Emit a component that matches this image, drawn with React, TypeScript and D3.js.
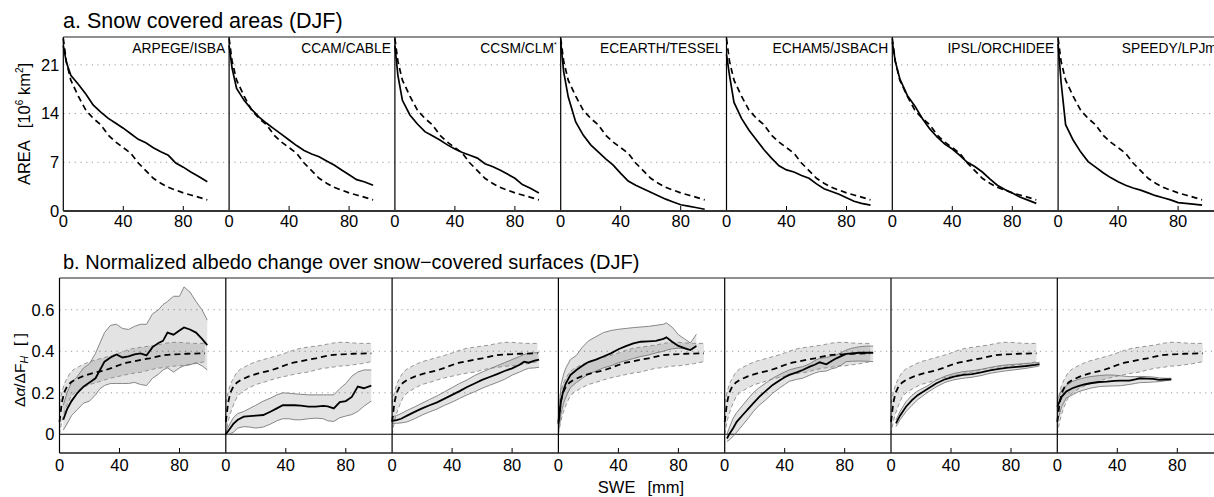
import React from 'react';
import * as d3 from 'd3';

// ---------- labels / ticks ----------
const models = ['ARPEGE/ISBA', 'CCAM/CABLE', 'CCSM/CLM', 'ECEARTH/TESSEL', 'ECHAM5/JSBACH', 'IPSL/ORCHIDEE', 'SPEEDY/LPJml'];
const areaTicks = [7, 14, 21];
const albTicks = [0.2, 0.4, 0.6];
const sweTicks = [0, 40, 80];

// ---------- panel a: snow covered area (10^6 km2) vs SWE (mm) ----------
const areaX = [0, 2, 5, 10, 15, 20, 25, 30, 35, 40, 45, 50, 55, 60, 65, 70, 75, 80, 85, 90, 96];
const areaObs = [24.8, 21.5, 18.8, 16.5, 14.5, 13.3, 12.4, 10.9, 9.9, 9.1, 8.3, 6.9, 5.8, 4.7, 4.0, 3.4, 3.0, 2.6, 2.3, 2.0, 1.6];
const areaArpege = [23.8, 21.4, 19.5, 18.2, 16.8, 15.2, 14.2, 13.3, 12.6, 11.9, 11.1, 10.3, 9.8, 9.1, 8.5, 8.0, 6.9, 6.3, 5.6, 5.0, 4.2];
const areaCcam = [23.8, 20.5, 17.6, 15.9, 14.6, 13.5, 12.6, 11.8, 11.0, 10.2, 9.4, 8.7, 8.2, 7.8, 7.2, 6.6, 5.9, 5.2, 4.5, 4.2, 3.7];
const areaCcsm = [23.8, 19.5, 15.9, 13.8, 12.5, 11.4, 10.8, 10.2, 9.5, 8.9, 8.4, 8.0, 7.6, 6.8, 6.4, 5.9, 5.3, 4.7, 3.8, 3.3, 2.6];
const areaEcearth = [24.3, 20.0, 16.4, 12.8, 10.9, 9.5, 8.5, 7.5, 6.6, 5.4, 4.3, 3.7, 3.2, 2.7, 2.2, 1.7, 1.3, 0.9, 0.7, 0.5, 0.25];
const areaEcham = [22.5, 19.5, 15.6, 13.3, 11.6, 10.2, 8.8, 7.6, 6.5, 5.9, 5.6, 5.1, 4.7, 3.9, 3.2, 2.8, 2.4, 1.9, 1.4, 1.1, 0.85];
const areaIpsl = [24.3, 21.5, 19.0, 16.6, 15.1, 13.3, 11.8, 10.6, 9.6, 8.9, 8.0, 7.0, 6.4, 5.6, 4.6, 3.7, 3.1, 2.6, 2.0, 1.6, 1.1];
const areaSpeedy = [24.0, 18.5, 12.4, 10.2, 8.5, 7.1, 6.3, 5.5, 4.8, 4.2, 3.7, 3.3, 3.0, 2.6, 2.2, 1.9, 1.6, 1.2, 1.1, 1.0, 0.85];

// ---------- panel b: normalized albedo change ----------
const albObsX = [0, 1.5, 3, 5, 7.5, 10, 15, 20, 25, 30, 35, 40, 45, 50, 55, 60, 65, 70, 75, 80, 85, 90, 97];
const albObs = [0.06, 0.15, 0.2, 0.23, 0.25, 0.262, 0.278, 0.29, 0.3, 0.308, 0.32, 0.334, 0.345, 0.352, 0.36, 0.366, 0.374, 0.382, 0.385, 0.386, 0.388, 0.389, 0.39];
const albObsHi = [0.15, 0.2, 0.24, 0.27, 0.3, 0.315, 0.334, 0.35, 0.36, 0.37, 0.38, 0.392, 0.405, 0.415, 0.42, 0.425, 0.43, 0.438, 0.443, 0.443, 0.44, 0.438, 0.438];
const albObsLo = [0.0, 0.06, 0.1, 0.14, 0.18, 0.2, 0.222, 0.24, 0.25, 0.262, 0.272, 0.28, 0.288, 0.295, 0.3, 0.31, 0.318, 0.322, 0.328, 0.33, 0.335, 0.34, 0.35];

const albArpegeX = [2.5, 5, 8, 12, 16, 20, 24, 27, 30, 34, 38, 42, 46, 50, 54, 58, 62, 66, 69, 72, 76, 80, 83, 87, 91, 95, 98.5];
const albArpege = [0.07, 0.12, 0.16, 0.2, 0.23, 0.25, 0.27, 0.31, 0.35, 0.37, 0.385, 0.37, 0.375, 0.385, 0.39, 0.38, 0.42, 0.44, 0.45, 0.49, 0.48, 0.5, 0.515, 0.505, 0.49, 0.46, 0.43];
const albArpegeHi = [0.14, 0.2, 0.25, 0.28, 0.32, 0.34, 0.39, 0.44, 0.49, 0.525, 0.53, 0.51, 0.505, 0.52, 0.53, 0.53, 0.58, 0.6, 0.625, 0.64, 0.665, 0.665, 0.71, 0.685, 0.64, 0.6, 0.55];
const albArpegeLo = [0.02, 0.05, 0.09, 0.12, 0.15, 0.16, 0.19, 0.22, 0.235, 0.245, 0.245, 0.245, 0.245, 0.25, 0.24, 0.235, 0.27, 0.29, 0.31, 0.32, 0.3, 0.32, 0.33, 0.335, 0.345, 0.33, 0.31];

const albCcamX = [0, 2, 5, 8, 12, 16, 20, 25, 30, 34, 38, 42, 46, 50, 55, 60, 65, 68, 72, 76, 80, 84, 88, 92, 97];
const albCcam = [0.0, 0.02, 0.05, 0.07, 0.085, 0.088, 0.09, 0.093, 0.11, 0.125, 0.14, 0.14, 0.14, 0.138, 0.133, 0.133, 0.137, 0.135, 0.125, 0.155, 0.16, 0.18, 0.23, 0.222, 0.235];
const albCcamHi = [0.01, 0.04, 0.08, 0.1, 0.11, 0.125, 0.14, 0.16, 0.175, 0.19, 0.2, 0.198, 0.195, 0.193, 0.19, 0.19, 0.19, 0.19, 0.19, 0.22, 0.245, 0.28, 0.3, 0.31, 0.31];
const albCcamLo = [0.0, 0.0, 0.01, 0.03, 0.037, 0.035, 0.03, 0.035, 0.05, 0.065, 0.075, 0.075, 0.07, 0.07, 0.075, 0.078, 0.075, 0.065, 0.062, 0.08, 0.088, 0.095, 0.11, 0.135, 0.16];

const albCcsmX = [0, 3, 6, 10, 15, 20, 25, 30, 35, 40, 45, 50, 55, 60, 65, 70, 75, 80, 85, 88, 91, 95, 98];
const albCcsm = [0.065, 0.068, 0.075, 0.09, 0.108, 0.125, 0.14, 0.154, 0.172, 0.19, 0.208, 0.228, 0.245, 0.262, 0.276, 0.29, 0.305, 0.318, 0.335, 0.35, 0.345, 0.355, 0.36];
const albCcsmHi = [0.085, 0.09, 0.1, 0.115, 0.132, 0.15, 0.168, 0.185, 0.205, 0.225, 0.245, 0.262, 0.283, 0.3, 0.315, 0.33, 0.345, 0.36, 0.375, 0.385, 0.39, 0.393, 0.394];
const albCcsmLo = [0.053, 0.053, 0.055, 0.06, 0.075, 0.093, 0.108, 0.122, 0.14, 0.155, 0.173, 0.19, 0.205, 0.222, 0.236, 0.25, 0.265, 0.285, 0.3, 0.31, 0.318, 0.32, 0.323];

const albEcearthX = [0, 1.8, 3.5, 5, 8, 12, 16, 20, 25, 30, 35, 40, 45, 50, 55, 60, 65, 70, 72, 76, 80, 84, 88, 92];
const albEcearth = [0.05, 0.165, 0.215, 0.246, 0.285, 0.31, 0.33, 0.348, 0.36, 0.375, 0.39, 0.41, 0.425, 0.438, 0.446, 0.448, 0.45, 0.46, 0.467, 0.445, 0.426, 0.415, 0.406, 0.426];
const albEcearthHi = [0.085, 0.24, 0.29, 0.32, 0.36, 0.38, 0.42, 0.45, 0.47, 0.49, 0.5, 0.506, 0.51, 0.514, 0.517, 0.52, 0.525, 0.53, 0.537, 0.515, 0.48, 0.46, 0.44, 0.482];
const albEcearthLo = [0.005, 0.1, 0.15, 0.18, 0.225, 0.25, 0.27, 0.29, 0.305, 0.32, 0.33, 0.345, 0.355, 0.365, 0.375, 0.382, 0.392, 0.4, 0.405, 0.412, 0.415, 0.412, 0.406, 0.42];

const albEchamX = [1.5, 3, 5.6, 8, 12, 16, 19, 23, 28, 32, 37, 40, 43, 48, 52, 56.7, 60, 63.3, 67.8, 71, 74.4, 78, 81, 85, 90, 95, 99];
const albEcham = [-0.02, 0.0, 0.029, 0.06, 0.093, 0.125, 0.149, 0.18, 0.213, 0.238, 0.262, 0.275, 0.286, 0.298, 0.31, 0.326, 0.335, 0.347, 0.337, 0.352, 0.366, 0.378, 0.387, 0.39, 0.393, 0.393, 0.393];
const albEchamHi = [0.0, 0.03, 0.077, 0.105, 0.14, 0.175, 0.2, 0.225, 0.25, 0.27, 0.29, 0.3, 0.31, 0.32, 0.326, 0.34, 0.355, 0.366, 0.37, 0.376, 0.382, 0.395, 0.406, 0.415, 0.422, 0.425, 0.425];
const albEchamLo = [-0.035, -0.027, -0.01, 0.01, 0.045, 0.08, 0.109, 0.14, 0.17, 0.198, 0.225, 0.24, 0.255, 0.265, 0.27, 0.285, 0.295, 0.302, 0.305, 0.315, 0.321, 0.335, 0.35, 0.352, 0.353, 0.352, 0.35];

const albIpslX = [3.3, 6, 10, 14, 18, 24, 30, 36, 42, 48, 54, 60, 66, 72, 78, 84, 90, 96, 99];
const albIpsl = [0.053, 0.09, 0.133, 0.165, 0.19, 0.217, 0.245, 0.265, 0.278, 0.286, 0.29, 0.298, 0.308, 0.315, 0.321, 0.325, 0.329, 0.334, 0.338];
const albIpslHi = [0.069, 0.11, 0.157, 0.188, 0.21, 0.232, 0.26, 0.28, 0.293, 0.302, 0.306, 0.313, 0.322, 0.33, 0.335, 0.338, 0.341, 0.344, 0.347];
const albIpslLo = [0.037, 0.07, 0.109, 0.14, 0.168, 0.2, 0.228, 0.25, 0.263, 0.27, 0.275, 0.283, 0.294, 0.301, 0.307, 0.312, 0.318, 0.325, 0.33];

const albSpeedyX = [0, 3, 6, 10, 14, 18, 22, 28, 33, 38, 42, 48, 52, 55, 60, 64, 68, 72, 76];
const albSpeedy = [0.133, 0.182, 0.206, 0.222, 0.232, 0.24, 0.246, 0.252, 0.254, 0.257, 0.259, 0.259, 0.265, 0.27, 0.268, 0.267, 0.262, 0.264, 0.265];
const albSpeedyHi = [0.165, 0.215, 0.235, 0.254, 0.265, 0.272, 0.278, 0.283, 0.286, 0.285, 0.282, 0.278, 0.278, 0.279, 0.278, 0.276, 0.272, 0.27, 0.27];
const albSpeedyLo = [0.061, 0.135, 0.175, 0.19, 0.205, 0.214, 0.222, 0.23, 0.232, 0.233, 0.234, 0.24, 0.245, 0.249, 0.25, 0.252, 0.254, 0.258, 0.262];

const areaModels = [areaArpege, areaCcam, areaCcsm, areaEcearth, areaEcham, areaIpsl, areaSpeedy];
const albModels = [
  { x: albArpegeX, m: albArpege, hi: albArpegeHi, lo: albArpegeLo },
  { x: albCcamX, m: albCcam, hi: albCcamHi, lo: albCcamLo },
  { x: albCcsmX, m: albCcsm, hi: albCcsmHi, lo: albCcsmLo },
  { x: albEcearthX, m: albEcearth, hi: albEcearthHi, lo: albEcearthLo },
  { x: albEchamX, m: albEcham, hi: albEchamHi, lo: albEchamLo },
  { x: albIpslX, m: albIpsl, hi: albIpslHi, lo: albIpslLo },
  { x: albSpeedyX, m: albSpeedy, hi: albSpeedyHi, lo: albSpeedyLo },
];

// ---------- layout ----------
const W = 1214;
const H = 497;
const FONT = '"Liberation Sans", Arial, Helvetica, sans-serif';
const A = { x0: 63.3, pw: 165.8, top: 37, bottom: 211 };
const B = { x0: 59.5, pw: 166.3, top: 278, bottom: 453 };
const PXU = 1.5; // px per mm

const yA = d3.scaleLinear().domain([0, 25]).range([A.bottom, A.top]);
const yB = d3.scaleLinear().domain([-0.09, 0.753]).range([B.bottom, B.top]);

const xPanel = (cfg: { x0: number; pw: number }, i: number) =>
  d3.scaleLinear().domain([0, cfg.pw / PXU]).range([cfg.x0 + i * cfg.pw, cfg.x0 + (i + 1) * cfg.pw]);

const fmtB = (v: number) => (v === 0 ? '0' : d3.format('.1f')(v));

export default function App() {
  const panelsA = models.map((name, i) => {
    const xs = xPanel(A, i);
    const line = d3.line<number>().x((_, k) => xs(areaX[k])).y((d) => yA(d));
    const px = xs(0);
    return (
      <g key={'a' + i}>
        <line x1={px} x2={px} y1={A.top} y2={A.bottom} stroke="#000" strokeWidth={1.2} />
        {sweTicks.filter((t) => t > 0).map((t) => (
          <line key={t} x1={xs(t)} x2={xs(t)} y1={A.bottom} y2={A.bottom - 5} stroke="#000" strokeWidth={1} />
        ))}
        {sweTicks.map((t) => (
          <text key={'l' + t} x={xs(t)} y={227} textAnchor="middle" fontSize={16.5}>{t}</text>
        ))}
        <path d={line(areaObs) || ''} fill="none" stroke="#000" strokeWidth={1.7} strokeDasharray="6,4" />
        <path d={line(areaModels[i]) || ''} fill="none" stroke="#000" strokeWidth={1.7} />
        <text x={xs(0) + A.pw - 4} y={53} textAnchor="end" fontSize={13.8}>
          {name}
          {i === 2 ? <tspan fontSize={7} dy={-6}>*</tspan> : null}
        </text>
      </g>
    );
  });

  const panelsB = models.map((name, i) => {
    const xs = xPanel(B, i);
    const mod = albModels[i];
    const lineO = d3.line<number>().x((_, k) => xs(albObsX[k])).y((d) => yB(d));
    const areaO = d3.area<number>().x((_, k) => xs(albObsX[k])).y0((_, k) => yB(albObsLo[k])).y1((d) => yB(d));
    const lineM = d3.line<number>().x((_, k) => xs(mod.x[k])).y((d) => yB(d));
    const areaM = d3.area<number>().x((_, k) => xs(mod.x[k])).y0((_, k) => yB(mod.lo[k])).y1((d) => yB(d));
    const px = xs(0);
    return (
      <g key={'b' + i}>
        <path d={areaO(albObsHi) || ''} fill="#000" fillOpacity={0.11} stroke="none" />
        <path d={areaM(mod.hi) || ''} fill="#000" fillOpacity={0.11} stroke="none" />
        <path d={lineO(albObsHi) || ''} fill="none" stroke="#8a8a8a" strokeWidth={0.9} strokeDasharray="4,3" />
        <path d={lineO(albObsLo) || ''} fill="none" stroke="#8a8a8a" strokeWidth={0.9} strokeDasharray="4,3" />
        <path d={lineM(mod.hi) || ''} fill="none" stroke="#7a7a7a" strokeWidth={0.9} />
        <path d={lineM(mod.lo) || ''} fill="none" stroke="#7a7a7a" strokeWidth={0.9} />
        <path d={lineO(albObs) || ''} fill="none" stroke="#000" strokeWidth={1.8} strokeDasharray="6,4" />
        <path d={lineM(mod.m) || ''} fill="none" stroke="#000" strokeWidth={1.8} />
        <line x1={px} x2={px} y1={B.top} y2={B.bottom} stroke="#000" strokeWidth={1.2} />
        {sweTicks.filter((t) => t > 0).map((t) => (
          <line key={t} x1={xs(t)} x2={xs(t)} y1={B.bottom} y2={B.bottom - 5} stroke="#000" strokeWidth={1} />
        ))}
        {sweTicks.map((t) => (
          <text key={'l' + t} x={xs(t)} y={471} textAnchor="middle" fontSize={16.5}>{t}</text>
        ))}
      </g>
    );
  });

  return (
    <svg width={W} height={H} style={{ position: 'absolute', left: 0, top: 0, background: '#fff' }} fontFamily={FONT}>
      <rect x={0} y={0} width={W} height={H} fill="#fff" />
      {/* ---------- panel a ---------- */}
      <text x={63} y={28} fontSize={21.5}>a. Snow covered areas (DJF)</text>
      {areaTicks.map((t) => (
        <line key={t} x1={A.x0} x2={W} y1={yA(t)} y2={yA(t)} stroke="#9a9a9a" strokeWidth={1} strokeDasharray="1.2,4.5" />
      ))}
      {[0, ...areaTicks].map((t) => (
        <text key={'y' + t} x={A.x0 - 4} y={yA(t) + 5.8} textAnchor="end" fontSize={16.5}>{t}</text>
      ))}
      <line x1={A.x0} x2={W} y1={A.top} y2={A.top} stroke="#222" strokeWidth={1.2} />
      {panelsA}
      <line x1={A.x0} x2={W} y1={A.bottom} y2={A.bottom} stroke="#333" strokeWidth={2} />
      <text transform={`translate(30,124) rotate(-90)`} textAnchor="middle" fontSize={16.5}>
        <tspan>AREA</tspan>
        <tspan dx={12}>[10</tspan>
        <tspan fontSize={10} dy={-7}>6</tspan>
        <tspan dy={7}> km</tspan>
        <tspan fontSize={10} dy={-7}>2</tspan>
        <tspan dy={7}>]</tspan>
      </text>

      {/* ---------- panel b ---------- */}
      <text x={63} y={269} fontSize={20}>b. Normalized albedo change over snow−covered surfaces (DJF)</text>
      {albTicks.map((t) => (
        <line key={t} x1={B.x0} x2={W} y1={yB(t)} y2={yB(t)} stroke="#9a9a9a" strokeWidth={1} strokeDasharray="1.2,4.5" />
      ))}
      <line x1={B.x0} x2={W} y1={yB(0)} y2={yB(0)} stroke="#000" strokeWidth={1.1} />
      {[0, ...albTicks].map((t) => (
        <text key={'y' + t} x={B.x0 - 5} y={yB(t) + 5.8} textAnchor="end" fontSize={16.5}>{fmtB(t)}</text>
      ))}
      <line x1={B.x0} x2={W} y1={B.top} y2={B.top} stroke="#222" strokeWidth={1.2} />
      {panelsB}
      <line x1={B.x0} x2={W} y1={B.bottom} y2={B.bottom} stroke="#222" strokeWidth={1.5} />
      <text transform={`translate(25,370) rotate(-90)`} textAnchor="middle" fontSize={15.5}>
        <tspan>Δ</tspan>
        <tspan fontStyle="italic">α</tspan>
        <tspan>/ΔF</tspan>
        <tspan fontSize={10.5} fontStyle="italic" dy={3}>H</tspan>
        <tspan dy={-3} dx={10}>[ ]</tspan>
      </text>
      <text x={641} y={493} textAnchor="middle" fontSize={16.5}>
        <tspan>SWE</tspan>
        <tspan dx={12}>[mm]</tspan>
      </text>
    </svg>
  );
}
